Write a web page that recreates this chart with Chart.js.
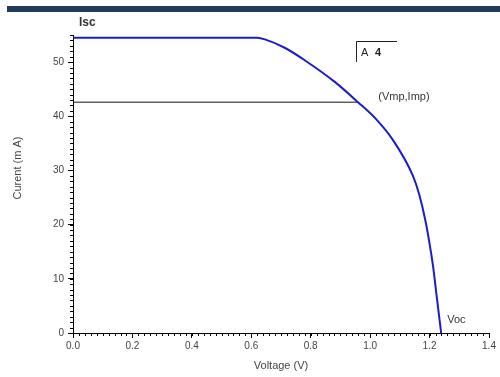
<!DOCTYPE html>
<html>
<head>
<meta charset="utf-8">
<script src="https://cdn.jsdelivr.net/npm/chart.js@4"></script>
<style>
  body { margin: 0; background: #fff; }
  #wrap { width: 500px; height: 377px; }
</style>
</head>
<body>
<div id="wrap"><canvas id="myChart" width="500" height="377"></canvas></div>
<script>
// I-V curve
const voltage = [0, 0.30, 0.62, 0.646, 0.714, 0.781, 0.882, 0.959, 1.023, 1.077, 1.144, 1.165, 1.185, 1.200, 1.212, 1.225, 1.239];
const current = [54.5, 54.5, 54.5, 54.2, 52.6, 50.3, 46.3, 42.6, 39.3, 35.6, 29.0, 25.6, 21.0, 16.5, 12.2, 6.3, 0];

// maximum power point
const vmp = 0.96;
const imp = 42.6;

const xTicks = [0, 0.2, 0.4, 0.6, 0.8, 1.0, 1.2, 1.4];
const yTicks = [0, 10, 20, 30, 40, 50];

const ctx = document.getElementById('myChart');

// header bar, minor ticks, labels on the plot
const extras = {
  id: 'extras',
  afterDraw(chart) {
    const c = chart.ctx;
    const x = chart.scales.x, y = chart.scales.y;
    const area = chart.chartArea;
    c.save();
    c.fillStyle = '#213b5b';
    c.fillRect(7, 6, 493, 6);

    // minor ticks
    c.strokeStyle = '#000';
    c.lineWidth = 1;
    c.beginPath();
    for (let v = 0; v <= 1.4001; v += 0.02) {
      const px = Math.round(x.getPixelForValue(v)) + 0.5;
      c.moveTo(px, area.bottom);
      c.lineTo(px, area.bottom + 3);
    }
    for (let v = 0; v <= 55; v += 1) {
      const py = Math.round(y.getPixelForValue(v)) + 0.5;
      c.moveTo(area.left, py);
      c.lineTo(area.left - 3, py);
    }
    c.stroke();

    // axis titles
    c.fillStyle = '#444';
    c.font = '11px "Liberation Sans", Arial, sans-serif';
    c.textAlign = 'center';
    c.textBaseline = 'middle';
    c.fillText('Voltage (V)', (area.left + area.right) / 2, 366);
    c.save();
    c.translate(18, 168);
    c.rotate(-Math.PI / 2);
    c.fillText('Curent (m A)', 0, 0);
    c.restore();

    // annotations
    c.textAlign = 'left';
    c.fillStyle = '#333';
    c.font = 'bold 12px "Liberation Sans", Arial, sans-serif';
    c.fillText('Isc', 79, 23);
    c.font = '11px "Liberation Sans", Arial, sans-serif';
    c.fillText('(Vmp,Imp)', x.getPixelForValue(vmp) + 20, 97);
    c.fillText('Voc', x.getPixelForValue(voltage[voltage.length - 1]) + 6, 320);

    // legend box
    c.strokeStyle = '#222';
    c.beginPath();
    c.moveTo(356.5, 62);
    c.lineTo(356.5, 41.5);
    c.lineTo(397, 41.5);
    c.stroke();
    c.fillStyle = '#222';
    c.fillText('A', 361, 53);
    c.font = 'bold 11px "Liberation Sans", Arial, sans-serif';
    c.fillText('4', 375, 53);
    c.restore();
  }
};

new Chart(ctx, {
  type: 'scatter',
  data: {
    datasets: [{
      label: 'A 4',
      data: voltage.map((v, i) => ({ x: v, y: current[i] })),
      showLine: true,
      borderColor: '#1c1ccf',
      borderWidth: 2,
      pointRadius: 0,
      cubicInterpolationMode: 'monotone'
    }, {
      label: 'mpp',
      data: [{ x: 0, y: imp }, { x: vmp, y: imp }],
      showLine: true,
      borderColor: '#111',
      borderWidth: 1,
      pointRadius: 0
    }]
  },
  plugins: [extras],
  options: {
    responsive: false,
    animation: false,
    layout: { padding: { left: 0, right: 11, top: 35, bottom: 0 } },
    plugins: {
      legend: { display: false },
      tooltip: { enabled: false }
    },
    scales: {
      x: {
        type: 'linear',
        min: 0,
        max: 1.4,
        afterFit(s) { s.height = 44; },
        afterBuildTicks(s) { s.ticks = xTicks.map(v => ({ value: v })); },
        border: { display: true, color: '#000', width: 1 },
        grid: { display: true, drawOnChartArea: false, drawTicks: true, tickLength: 5, color: '#000' },
        ticks: {
          color: '#444',
          font: { family: '"Liberation Sans", Arial, sans-serif', size: 10 },
          padding: 2,
          maxRotation: 0,
          callback: v => v.toFixed(1)
        }
      },
      y: {
        min: 0,
        max: 55,
        afterFit(s) { s.width = 73; },
        afterBuildTicks(s) { s.ticks = yTicks.map(v => ({ value: v })); },
        border: { display: true, color: '#000', width: 1 },
        grid: { display: true, drawOnChartArea: false, drawTicks: true, tickLength: 5, color: '#000' },
        ticks: {
          color: '#444',
          font: { family: '"Liberation Sans", Arial, sans-serif', size: 10 },
          padding: 4
        }
      }
    }
  }
});
</script>
</body>
</html>
